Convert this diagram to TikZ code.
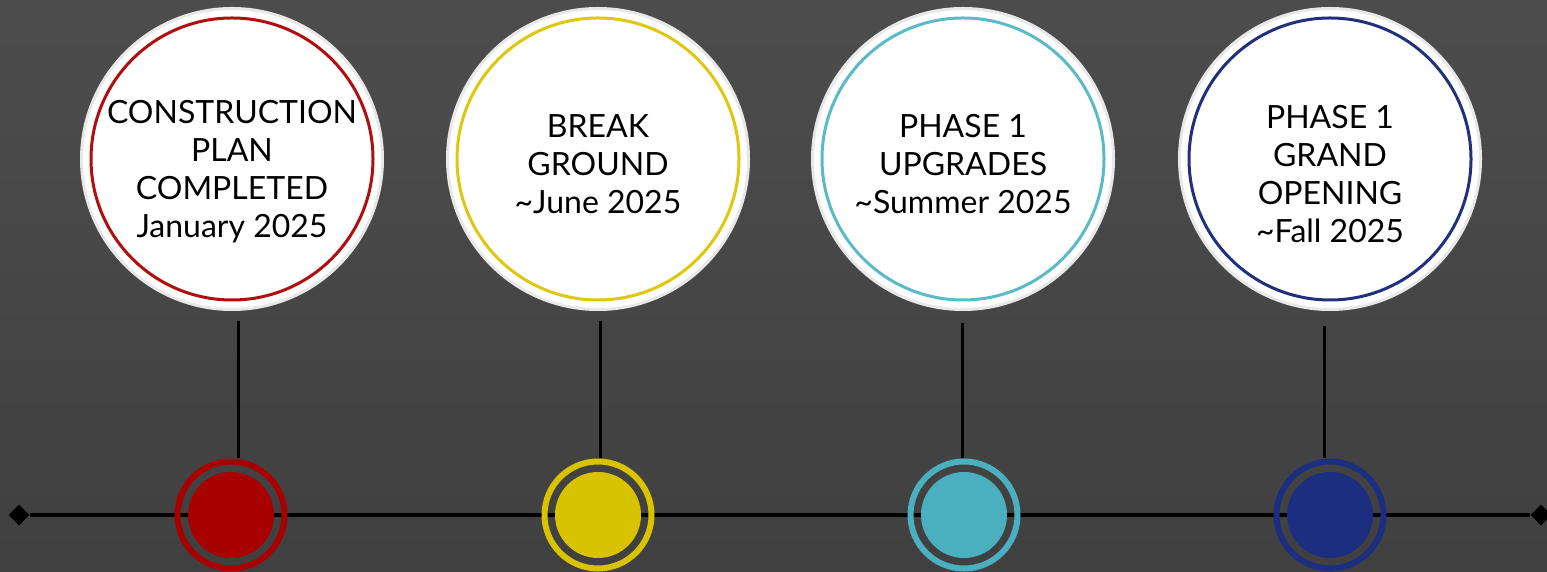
\documentclass[tikz,border=0pt]{standalone}
\usepackage{fontspec}
\setmainfont{Lato}
\usetikzlibrary{shapes.geometric}
\definecolor{bgtop}{rgb}{0.30,0.30,0.30}
\definecolor{bgbot}{rgb}{0.25,0.25,0.25}
\definecolor{aaqqqq}{rgb}{0.66,0,0}
\definecolor{aaqqqqring}{rgb}{0.69,0.06,0.06}
\definecolor{ddccqq}{rgb}{0.85,0.76,0}
\definecolor{ddccqqring}{rgb}{0.88,0.78,0.06}
\definecolor{qqaacc}{rgb}{0.29,0.69,0.75}
\definecolor{qqaaccring}{rgb}{0.36,0.73,0.78}
\definecolor{qqqq88}{rgb}{0.11,0.18,0.50}
\definecolor{qqqq88ring}{rgb}{0.13,0.19,0.49}
\tikzset{
  bubble/.style={circle, minimum size=301pt, inner sep=0pt, fill=white,
    draw=black!9, line width=3pt,
    path picture={\draw[#1, line width=3pt] (path picture bounding box.center) circle (141pt);}},
  bubbletext/.style={align=center, text=black, font=\fontsize{32}{38}\selectfont},
  dot/.style={circle, minimum size=86pt, inner sep=0pt, fill=#1},
  ringmark/.style={circle, minimum size=107pt, inner sep=0pt, draw=#1, line width=6pt},
  tip/.style={diamond, minimum size=21pt, inner sep=0pt, fill=black},
  stem/.style={line width=3pt, black},
  axis/.style={line width=3.5pt, black}
}
\begin{document}
\begin{tikzpicture}[x=1pt,y=1pt]
			\fill [top color=bgtop, bottom color=bgbot] (0,0) rectangle (1547,572);
			\useasboundingbox (0,0) rectangle (1547,572);
			% time line
			\node [tip] (left) at (19,57) {};
			\node [tip] (right) at (1541,57) {};
			\draw [axis] (left) -- (right);
			% markers on the line
			\node [dot=aaqqqq] (d1) at (231,57) {};
			\node [ringmark=aaqqqq] (r1) at (231,57) {};
			\node [dot=ddccqq] (d2) at (598,57) {};
			\node [ringmark=ddccqq] (r2) at (598,57) {};
			\node [dot=qqaacc] (d3) at (964,57) {};
			\node [ringmark=qqaacc] (r3) at (964,57) {};
			\node [dot=qqqq88] (d4) at (1330,57) {};
			\node [ringmark=qqqq88] (r4) at (1330,57) {};
			% milestones
			\node [bubble=aaqqqqring] (b1) at (232,413) {};
			\node [bubble=ddccqqring] (b2) at (598,413) {};
			\node [bubble=qqaaccring] (b3) at (963,413) {};
			\node [bubble=qqqq88ring] (b4) at (1330,413) {};
			\node [bubbletext] (t1) at ([yshift=-13]b1.center) {CONSTRUCTION\\PLAN\\COMPLETED\\January 2025};
			\node [bubbletext] (t2) at ([yshift=-5]b2.center) {BREAK\\GROUND\\\textasciitilde June 2025};
			\node [bubbletext] (t3) at ([yshift=-5]b3.center) {PHASE 1\\UPGRADES\\\textasciitilde Summer 2025};
			\node [bubbletext] (t4) at ([yshift=-15]b4.center) {PHASE 1\\GRAND\\OPENING\\\textasciitilde Fall 2025};
			% stems
			\draw [stem] ([xshift=6,yshift=-10]b1.south) -- ([xshift=6]b1.south |- r1.north);
			\draw [stem] ([xshift=2,yshift=-10]b2.south) -- ([xshift=2]b2.south |- r2.north);
			\draw [stem] ([xshift=-1,yshift=-12]b3.south) -- ([xshift=-1]b3.south |- r3.north);
			\draw [stem] ([xshift=-6,yshift=-15]b4.south) -- ([xshift=-6]b4.south |- r4.north);
\end{tikzpicture}
\end{document}
